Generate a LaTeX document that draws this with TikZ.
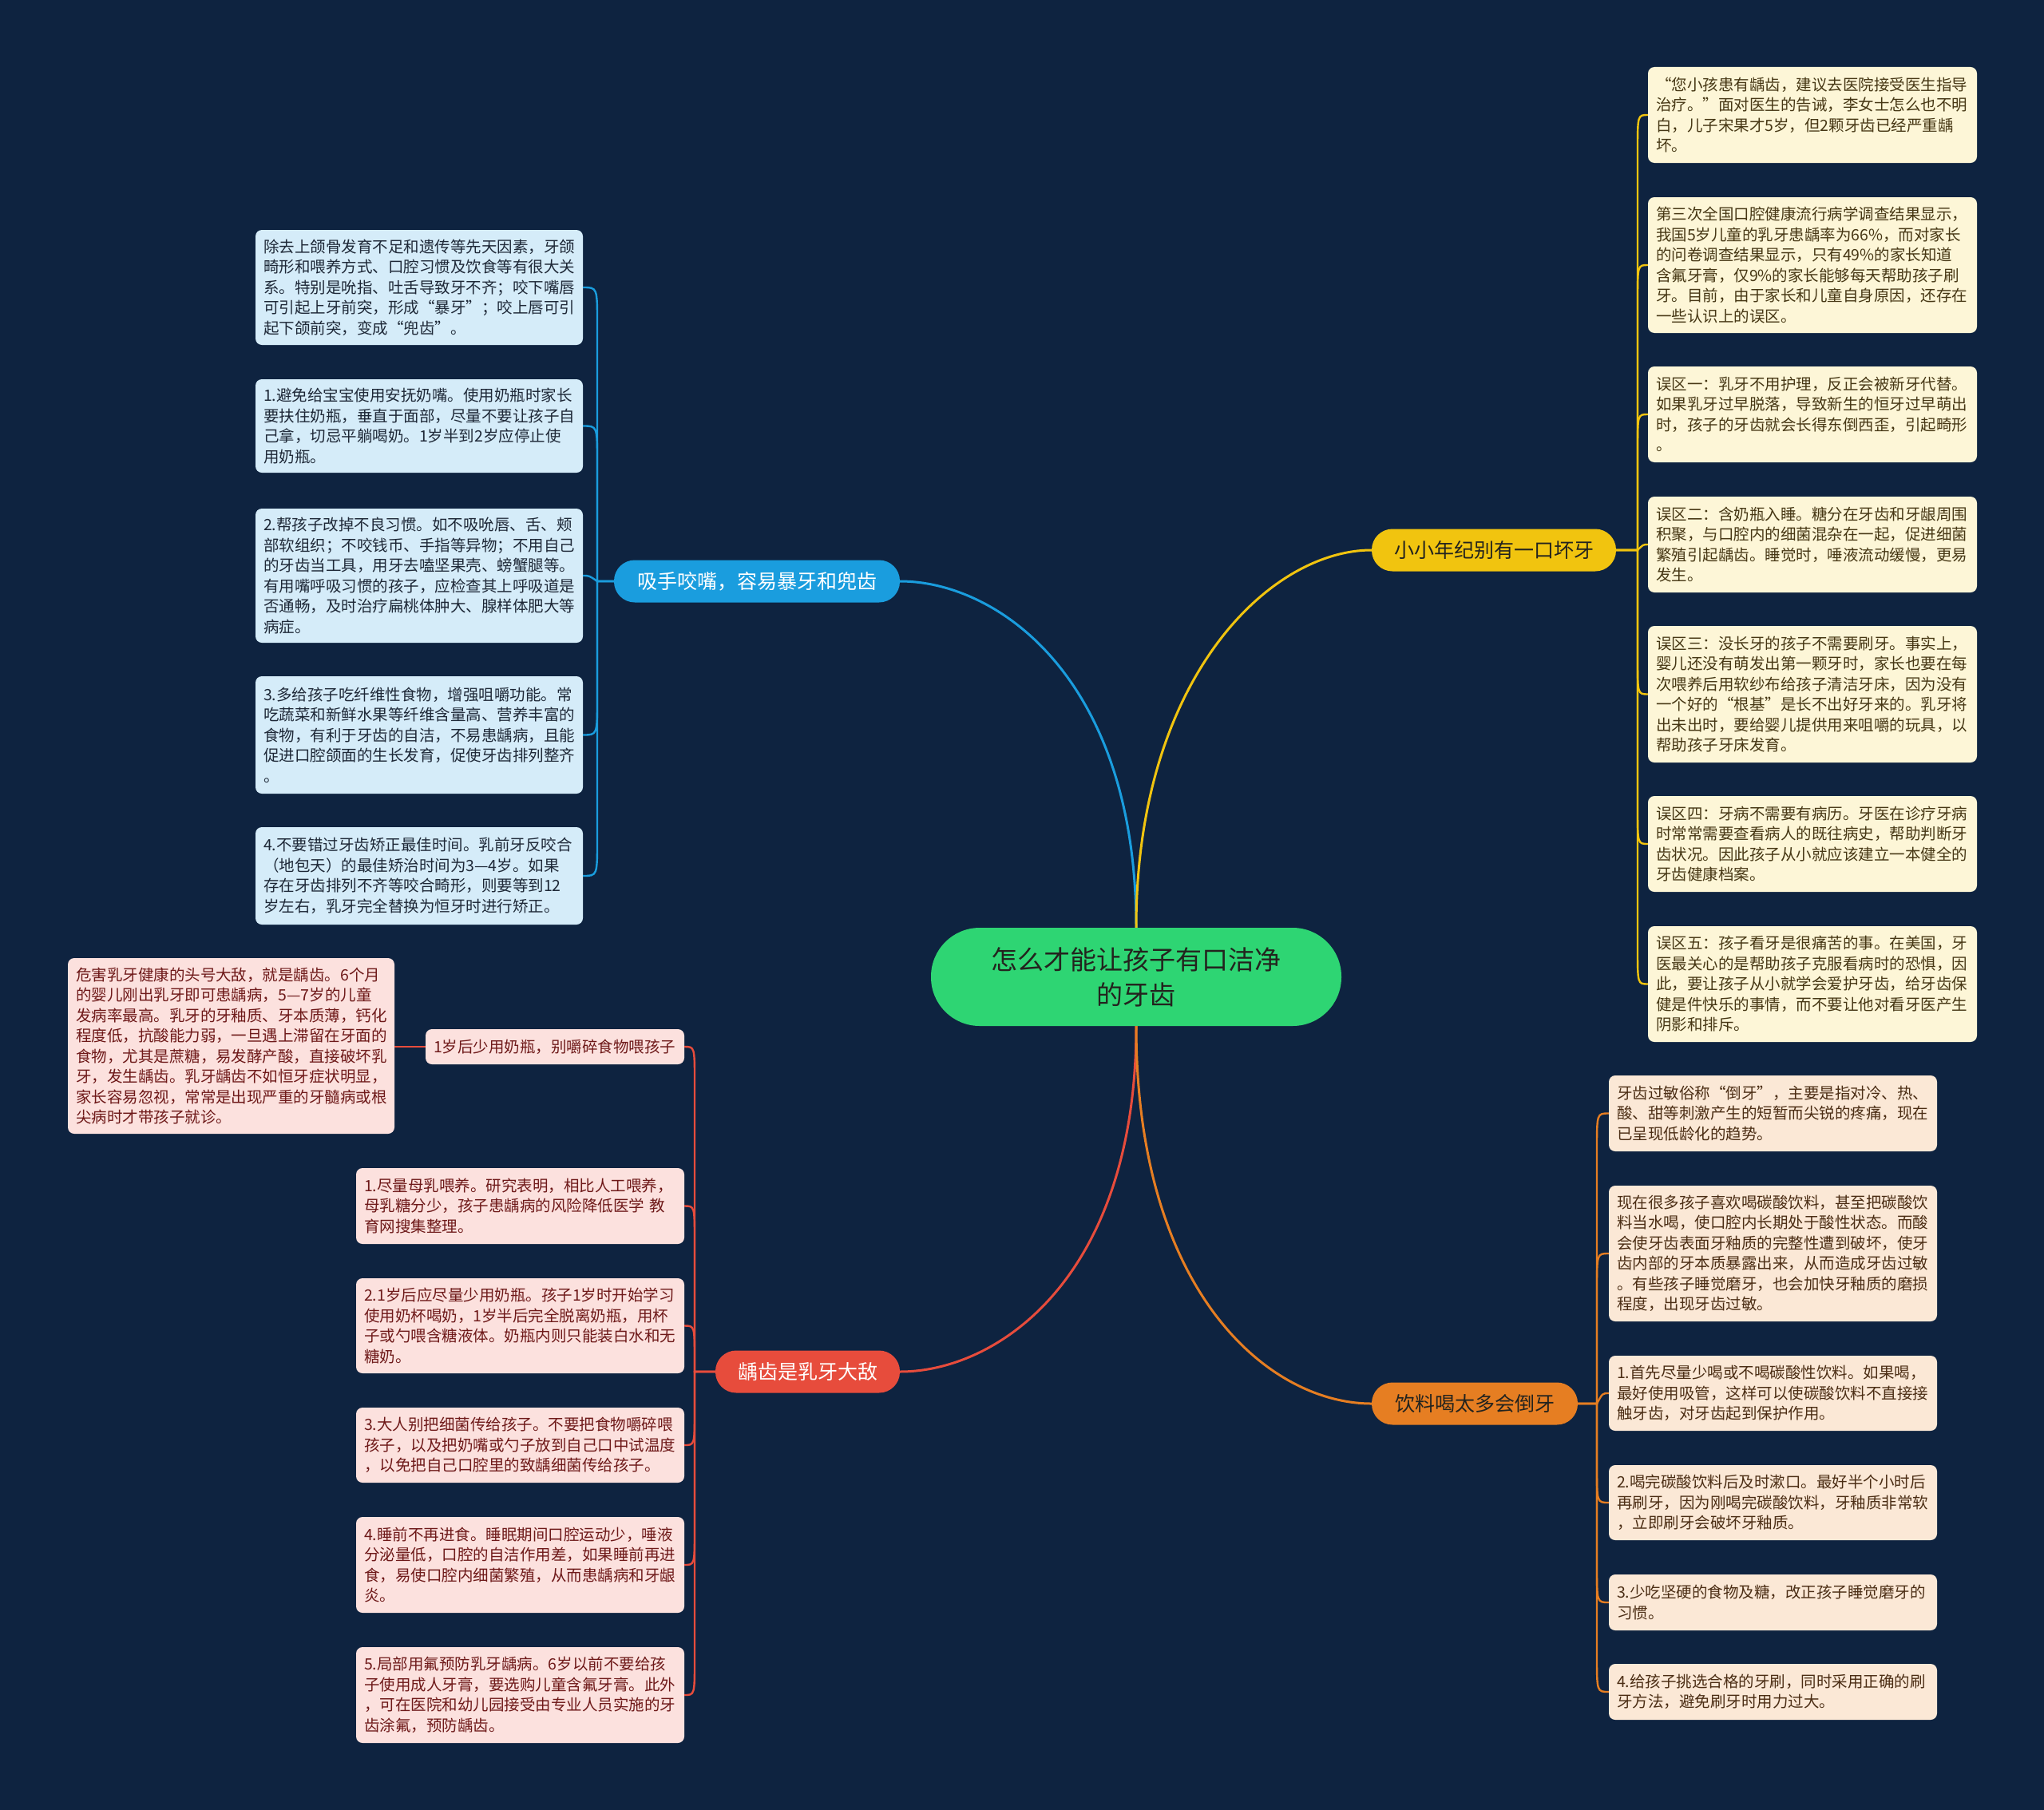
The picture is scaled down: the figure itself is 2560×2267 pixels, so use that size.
\documentclass[tikz,border=0pt]{standalone}
\usepackage{fontspec}
\setmainfont{Noto Sans CJK SC}
\usetikzlibrary{calc}
\definecolor{bgc}{HTML}{0E2340}
\definecolor{cgreen}{RGB}{46,213,115}
\definecolor{cblue}{RGB}{26,157,222}
\definecolor{cyellow}{RGB}{241,196,15}
\definecolor{cred}{RGB}{231,76,60}
\definecolor{corange}{RGB}{230,126,34}
\definecolor{bfill}{RGB}{213,236,249}
\definecolor{yfill}{RGB}{253,246,215}
\definecolor{ofill}{RGB}{251,232,214}
\definecolor{rfill}{RGB}{252,225,222}
\definecolor{btext}{RGB}{30,40,55}
\definecolor{ytext}{RGB}{70,55,20}
\definecolor{otext}{RGB}{75,45,20}
\definecolor{rtext}{RGB}{110,25,25}
\definecolor{darktext}{RGB}{35,35,30}
\tikzset{
  leaf/.style={rounded corners=8pt, text width=392pt, align=left, inner xsep=10pt, inner ysep=0pt,
    font=\fontsize{19.5}{25.5}\selectfont},
  bleaf/.style={leaf, fill=bfill, text=btext},
  yleaf/.style={leaf, fill=yfill, text=ytext},
  oleaf/.style={leaf, fill=ofill, text=otext},
  rleaf/.style={leaf, fill=rfill, text=rtext},
  branch/.style={rounded corners=26pt, minimum height=53pt, inner xsep=0pt, align=center,
    font=\fontsize{25}{30}\selectfont},
  mainlink/.style={line width=3pt},
  sublink/.style={line width=2.4pt},
}
\begin{document}
\begin{tikzpicture}[x=1pt,y=-1pt]
\fill[bgc] (0,0) rectangle (2560,2267);
\useasboundingbox (0,0) rectangle (2560,2267);

% center and branches
\node[fill=cgreen, text=darktext, rounded corners=61pt, minimum width=514pt, minimum height=123pt,
  align=center, font=\fontsize{33}{44}\selectfont] (C) at (1423,1223.5) {怎么才能让孩子有口洁净\\的牙齿};
\node[branch, fill=cblue, text=white, minimum width=358pt] (BB) at (948,728) {吸手咬嘴，容易暴牙和兜齿};
\node[branch, fill=cyellow, text=darktext, minimum width=306pt] (YB) at (1871,689) {小小年纪别有一口坏牙};
\node[branch, fill=cred, text=white, minimum width=231pt] (RB) at (1011.5,1718) {龋齿是乳牙大敌};
\node[branch, fill=corange, text=darktext, minimum width=258pt] (OB) at (1847,1758) {饮料喝太多会倒牙};

% blue leaves
\node[bleaf, minimum height=144pt, text width=390pt] (B0) at (525,360) {除去上颌骨发育不足和遗传等先天因素，牙颌\\畸形和喂养方式、口腔习惯及饮食等有很大关\\系。特别是吮指、吐舌导致牙不齐；咬下嘴唇\\可引起上牙前突，形成“暴牙”；咬上唇可引\\起下颌前突，变成“兜齿”。};
\node[bleaf, minimum height=117pt, text width=390pt] (B1) at (525,533.5) {1.避免给宝宝使用安抚奶嘴。使用奶瓶时家长\\要扶住奶瓶，垂直于面部，尽量不要让孩子自\\己拿，切忌平躺喝奶。1岁半到2岁应停止使\\用奶瓶。};
\node[bleaf, minimum height=168pt, text width=390pt] (B2) at (525,721) {2.帮孩子改掉不良习惯。如不吸吮唇、舌、颊\\部软组织；不咬钱币、手指等异物；不用自己\\的牙齿当工具，用牙去嗑坚果壳、螃蟹腿等。\\有用嘴呼吸习惯的孩子，应检查其上呼吸道是\\否通畅，及时治疗扁桃体肿大、腺样体肥大等\\病症。};
\node[bleaf, minimum height=147pt, text width=390pt] (B3) at (525,920.5) {3.多给孩子吃纤维性食物，增强咀嚼功能。常\\吃蔬菜和新鲜水果等纤维含量高、营养丰富的\\食物，有利于牙齿的自洁，不易患龋病，且能\\促进口腔颌面的生长发育，促使牙齿排列整齐\\。};
\node[bleaf, minimum height=122pt, text width=390pt] (B4) at (525,1097) {4.不要错过牙齿矫正最佳时间。乳前牙反咬合\\（地包天）的最佳矫治时间为3—4岁。如果\\存在牙齿排列不齐等咬合畸形，则要等到12\\岁左右，乳牙完全替换为恒牙时进行矫正。};

% yellow leaves
\node[yleaf, minimum height=120pt] (Y0) at (2270,144) {“您小孩患有龋齿，建议去医院接受医生指导\\治疗。”面对医生的告诫，李女士怎么也不明\\白，儿子宋果才5岁，但2颗牙齿已经严重龋\\坏。};
\node[yleaf, minimum height=170pt] (Y1) at (2270,332) {第三次全国口腔健康流行病学调查结果显示，\\我国5岁儿童的乳牙患龋率为66\%，而对家长\\的问卷调查结果显示，只有49\%的家长知道\\含氟牙膏，仅9\%的家长能够每天帮助孩子刷\\牙。目前，由于家长和儿童自身原因，还存在\\一些认识上的误区。};
\node[yleaf, minimum height=120pt] (Y2) at (2270,519) {误区一：乳牙不用护理，反正会被新牙代替。\\如果乳牙过早脱落，导致新生的恒牙过早萌出\\时，孩子的牙齿就会长得东倒西歪，引起畸形\\。};
\node[yleaf, minimum height=120pt] (Y3) at (2270,682) {误区二：含奶瓶入睡。糖分在牙齿和牙龈周围\\积聚，与口腔内的细菌混杂在一起，促进细菌\\繁殖引起龋齿。睡觉时，唾液流动缓慢，更易\\发生。};
\node[yleaf, minimum height=171pt] (Y4) at (2270,869.5) {误区三：没长牙的孩子不需要刷牙。事实上，\\婴儿还没有萌发出第一颗牙时，家长也要在每\\次喂养后用软纱布给孩子清洁牙床，因为没有\\一个好的“根基”是长不出好牙来的。乳牙将\\出未出时，要给婴儿提供用来咀嚼的玩具，以\\帮助孩子牙床发育。};
\node[yleaf, minimum height=120pt] (Y5) at (2270,1057) {误区四：牙病不需要有病历。牙医在诊疗牙病\\时常常需要查看病人的既往病史，帮助判断牙\\齿状况。因此孩子从小就应该建立一本健全的\\牙齿健康档案。};
\node[yleaf, minimum height=145pt] (Y6) at (2270,1232.5) {误区五：孩子看牙是很痛苦的事。在美国，牙\\医最关心的是帮助孩子克服看病时的恐惧，因\\此，要让孩子从小就学会爱护牙齿，给牙齿保\\健是件快乐的事情，而不要让他对看牙医产生\\阴影和排斥。};

% orange leaves
\node[oleaf, minimum height=95pt, text width=391pt] (O0) at (2220.5,1394.5) {牙齿过敏俗称“倒牙”，主要是指对冷、热、\\酸、甜等刺激产生的短暂而尖锐的疼痛，现在\\已呈现低龄化的趋势。};
\node[oleaf, minimum height=170pt, text width=391pt] (O1) at (2220.5,1570) {现在很多孩子喜欢喝碳酸饮料，甚至把碳酸饮\\料当水喝，使口腔内长期处于酸性状态。而酸\\会使牙齿表面牙釉质的完整性遭到破坏，使牙\\齿内部的牙本质暴露出来，从而造成牙齿过敏\\。有些孩子睡觉磨牙，也会加快牙釉质的磨损\\程度，出现牙齿过敏。};
\node[oleaf, minimum height=94pt, text width=391pt] (O2) at (2220.5,1745) {1.首先尽量少喝或不喝碳酸性饮料。如果喝，\\最好使用吸管，这样可以使碳酸饮料不直接接\\触牙齿，对牙齿起到保护作用。};
\node[oleaf, minimum height=94pt, text width=391pt] (O3) at (2220.5,1882) {2.喝完碳酸饮料后及时漱口。最好半个小时后\\再刷牙，因为刚喝完碳酸饮料，牙釉质非常软\\，立即刷牙会破坏牙釉质。};
\node[oleaf, minimum height=70pt, text width=391pt] (O4) at (2220.5,2007) {3.少吃坚硬的食物及糖，改正孩子睡觉磨牙的\\习惯。};
\node[oleaf, minimum height=70pt, text width=391pt] (O5) at (2220.5,2119) {4.给孩子挑选合格的牙刷，同时采用正确的刷\\牙方法，避免刷牙时用力过大。};

% red leaves
\node[rleaf, minimum height=44pt, text width=304pt] (R0) at (695,1311) {1岁后少用奶瓶，别嚼碎食物喂孩子};
\node[rleaf, minimum height=220pt, text width=389pt] (RX) at (289.5,1310) {危害乳牙健康的头号大敌，就是龋齿。6个月\\的婴儿刚出乳牙即可患龋病，5—7岁的儿童\\发病率最高。乳牙的牙釉质、牙本质薄，钙化\\程度低，抗酸能力弱，一旦遇上滞留在牙面的\\食物，尤其是蔗糖，易发酵产酸，直接破坏乳\\牙，发生龋齿。乳牙龋齿不如恒牙症状明显，\\家长容易忽视，常常是出现严重的牙髓病或根\\尖病时才带孩子就诊。};
\node[rleaf, minimum height=95pt, text width=391pt] (R1) at (651.5,1510.5) {1.尽量母乳喂养。研究表明，相比人工喂养，\\母乳糖分少，孩子患龋病的风险降低医学 教\\育网搜集整理。};
\node[rleaf, minimum height=119pt, text width=391pt] (R2) at (651.5,1660.5) {2.1岁后应尽量少用奶瓶。孩子1岁时开始学习\\使用奶杯喝奶，1岁半后完全脱离奶瓶，用杯\\子或勺喂含糖液体。奶瓶内则只能装白水和无\\糖奶。};
\node[rleaf, minimum height=94pt, text width=391pt] (R3) at (651.5,1810) {3.大人别把细菌传给孩子。不要把食物嚼碎喂\\孩子，以及把奶嘴或勺子放到自己口中试温度\\，以免把自己口腔里的致龋细菌传给孩子。};
\node[rleaf, minimum height=120pt, text width=391pt] (R4) at (651.5,1960) {4.睡前不再进食。睡眠期间口腔运动少，唾液\\分泌量低，口腔的自洁作用差，如果睡前再进\\食，易使口腔内细菌繁殖，从而患龋病和牙龈\\炎。};
\node[rleaf, minimum height=120pt, text width=391pt] (R5) at (651.5,2123) {5.局部用氟预防乳牙龋病。6岁以前不要给孩\\子使用成人牙膏，要选购儿童含氟牙膏。此外\\，可在医院和幼儿园接受由专业人员实施的牙\\齿涂氟，预防龋齿。};

% main connectors
\draw[mainlink, cblue] (C.north) .. controls (1423,850) and (1250,728) .. (BB.east);
\draw[mainlink, cyellow] (C.north) .. controls (1423,850) and (1590,689) .. (YB.west);
\draw[mainlink, cred] (C.south) .. controls (1423,1600) and (1250,1718) .. (RB.east);
\draw[mainlink, corange] (C.south) .. controls (1423,1620) and (1590,1758) .. (OB.west);

% blue sub connectors
\begin{scope}[sublink, cblue]
\draw (BB.west) -- (748,728) -- (748,405) .. controls (748,360) .. (B0.east);
\draw (BB.west) -- (748,728) -- (748,578.5) .. controls (748,533.5) .. (B1.east);
\draw (BB.west) -- (748,728) .. controls (738,721) .. (B2.east);
\draw (BB.west) -- (748,728) -- (748,875.5) .. controls (748,920.5) .. (B3.east);
\draw (BB.west) -- (748,728) -- (748,1052) .. controls (748,1097) .. (B4.east);
\end{scope}

% yellow sub connectors
\begin{scope}[sublink, cyellow]
\draw (YB.east) -- (2051,689) -- (2051,189) .. controls (2051,144) .. (Y0.west);
\draw (YB.east) -- (2051,689) -- (2051,377) .. controls (2051,332) .. (Y1.west);
\draw (YB.east) -- (2051,689) -- (2051,564) .. controls (2051,519) .. (Y2.west);
\draw (YB.east) -- (2051,689) .. controls (2058,682) .. (Y3.west);
\draw (YB.east) -- (2051,689) -- (2051,824.5) .. controls (2051,869.5) .. (Y4.west);
\draw (YB.east) -- (2051,689) -- (2051,1012) .. controls (2051,1057) .. (Y5.west);
\draw (YB.east) -- (2051,689) -- (2051,1187.5) .. controls (2051,1232.5) .. (Y6.west);
\end{scope}

% orange sub connectors
\begin{scope}[sublink, corange]
\draw (OB.east) -- (2000,1758) -- (2000,1439.5) .. controls (2000,1394.5) .. (O0.west);
\draw (OB.east) -- (2000,1758) -- (2000,1615) .. controls (2000,1570) .. (O1.west);
\draw (OB.east) -- (2000,1758) .. controls (2007,1745) .. (O2.west);
\draw (OB.east) -- (2000,1758) -- (2000,1837) .. controls (2000,1882) .. (O3.west);
\draw (OB.east) -- (2000,1758) -- (2000,1962) .. controls (2000,2007) .. (O4.west);
\draw (OB.east) -- (2000,1758) -- (2000,2074) .. controls (2000,2119) .. (O5.west);
\end{scope}

% red sub connectors
\begin{scope}[sublink, cred]
\draw (RB.west) -- (870,1718) -- (870,1356) .. controls (870,1311) .. (R0.east);
\draw (RB.west) -- (870,1718) -- (870,1555.5) .. controls (870,1510.5) .. (R1.east);
\draw (RB.west) -- (870,1718) -- (870,1705.5) .. controls (870,1660.5) .. (R2.east);
\draw (RB.west) -- (870,1718) -- (870,1765) .. controls (870,1810) .. (R3.east);
\draw (RB.west) -- (870,1718) -- (870,1915) .. controls (870,1960) .. (R4.east);
\draw (RB.west) -- (870,1718) -- (870,2078) .. controls (870,2123) .. (R5.east);
\draw (R0.west) -- (RX.east |- R0.west);
\end{scope}
\end{tikzpicture}
\end{document}
